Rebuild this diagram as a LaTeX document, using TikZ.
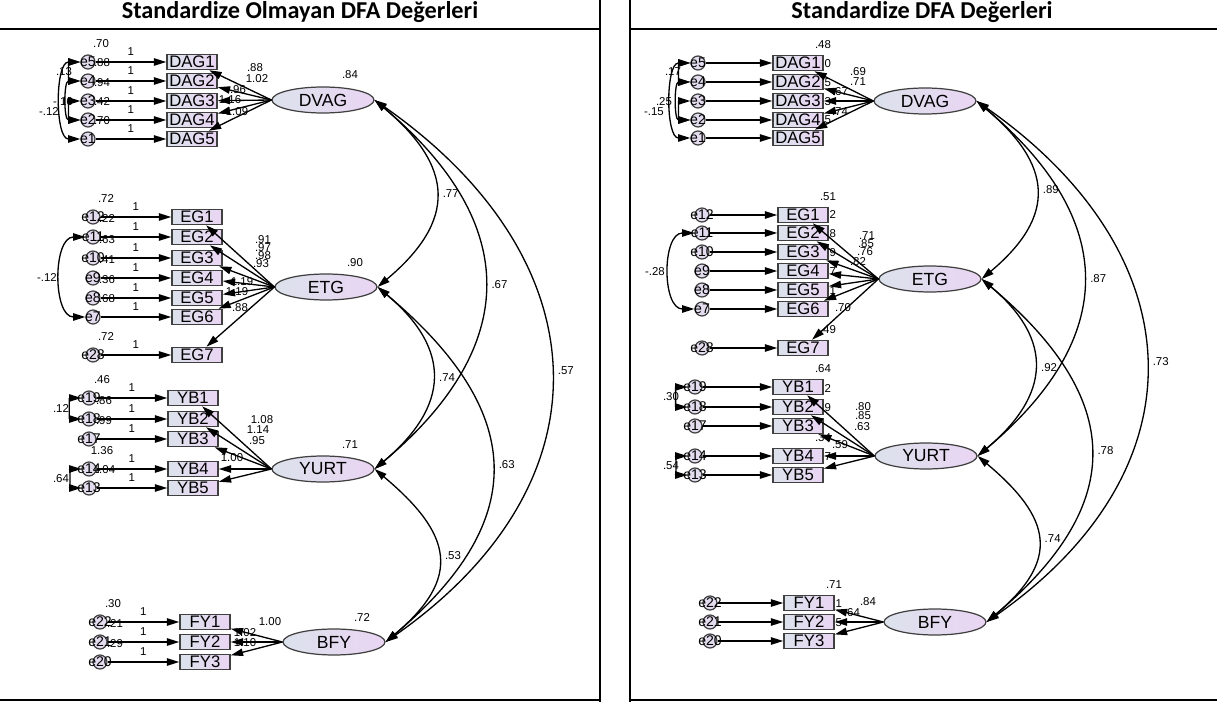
\documentclass[tikz,border=0pt]{standalone}
\usepackage{fontspec}
\setmainfont{Liberation Sans}
\newfontfamily\titlefont{Carlito}
\usetikzlibrary{shapes,arrows.meta,calc}
\definecolor{obsleft}{HTML}{DCE2EC}
\definecolor{obsright}{HTML}{EAD5F3}
\definecolor{errfill}{HTML}{E2DCEE}
\tikzset{obs/.style={rectangle,draw=black!75,line width=.9pt,left color=obsleft,right color=obsright,minimum width=1cm,minimum height=.3cm,inner sep=0pt,font=\fontsize{9.5}{10}\selectfont}}
\tikzset{lat/.style={ellipse,draw=black!75,line width=.7pt,left color=obsleft,right color=obsright,minimum width=2.04cm,minimum height=.52cm,inner sep=0pt,font=\fontsize{10}{11}\selectfont}}
\tikzset{err/.style={circle,draw=black!75,line width=.7pt,fill=errfill,minimum size=.28cm,inner sep=0pt,label={[font=\fontsize{8}{9}\selectfont,inner sep=0pt]center:#1}}}
\tikzset{num/.style={font=\fontsize{6.5}{7}\selectfont,inner sep=.6pt}}
\tikzset{load/.style={-{Triangle[length=7pt,width=4.2pt]},line width=.75pt}}
\tikzset{cov/.style={{Triangle[length=7pt,width=4.2pt]}-{Triangle[length=7pt,width=4.2pt]},line width=.75pt}}
\tikzset{tabline/.style={line width=1pt}}
\tikzset{title/.style={font=\titlefont\bfseries\fontsize{13.8}{15}\selectfont}}

\begin{document}
\begin{tikzpicture}[x=0.02cm,y=-0.02cm]
      \useasboundingbox (0,0) rectangle (1217,702);
      % table
      \draw[tabline] (0,29) -- (600,29) (630,29) -- (1217,29)
      (600,0) -- (600,702) (630,0) -- (630,702)
      (0,700) -- (600,700) (630,700) -- (1217,700);
      \node[title] (tleft) at (300,12) {Standardize Olmayan DFA Değerleri};
      \node[title] (tright) at (922,12) {Standardize DFA Değerleri};

      % variances (left) and squared correlations (right), under the nodes
      \node[num] (uv5) at (101,44) {.70};
      \node[num] (uv4) at (102,63) {.88};
      \node[num] (uv3) at (102,83) {.94};
      \node[num] (uv2) at (102,102) {.42};
      \node[num] (uv1) at (102,121) {.70};
      \node[num] (uv12) at (106,199) {.72};
      \node[num] (uv11) at (107,219) {.22};
      \node[num] (uv10) at (107,240) {.63};
      \node[num] (uv9) at (107,260) {.41};
      \node[num] (uv8) at (107,280) {.36};
      \node[num] (uv7) at (107,299) {.68};
      \node[num] (uv28) at (106,337) {.72};
      \node[num] (uv19) at (102,380) {.46};
      \node[num] (uv18) at (104,401) {.86};
      \node[num] (uv17) at (104,421) {.99};
      \node[num] (uv14) at (102,451) {1.36};
      \node[num] (uv13) at (104,470) {1.04};
      \node[num] (uv22) at (113,604) {.30};
      \node[num] (uv21) at (115,624) {.21};
      \node[num] (uv20) at (115,644) {.29};
      \node[num] (sr1) at (823,45) {.48};
      \node[num] (sr2) at (823,64) {.50};
      \node[num] (sr3) at (823,83) {.45};
      \node[num] (sr4) at (823,102) {.53};
      \node[num] (sr5) at (823,120) {.55};
      \node[num] (sr6) at (828,197) {.51};
      \node[num] (sr7) at (828,215) {.72};
      \node[num] (sr8) at (828,234) {.58};
      \node[num] (sr9) at (828,253) {.69};
      \node[num] (sr10) at (828,272) {.67};
      \node[num] (sr11) at (828,291) {.61};
      \node[num] (sr12) at (828,330) {.49};
      \node[num] (sr13) at (823,369) {.64};
      \node[num] (sr14) at (823,389) {.72};
      \node[num] (sr15) at (823,408) {.39};
      \node[num] (sr16) at (823,438) {.34};
      \node[num] (sr17) at (823,457) {.37};
      \node[num] (sr18) at (834,585) {.71};
      \node[num] (sr19) at (834,604) {.71};
      \node[num] (sr20) at (834,623) {.55};

      % left panel
      \node[lat] (udvag) at (323,100) {DVAG};
      \node[lat] (uetg) at (326,287) {ETG};
      \node[lat] (uyurt) at (323,469) {YURT};
      \node[lat] (ubfy) at (334,642) {BFY};
      \node[obs] (udag1) at (192,62) {DAG1};
      \node[obs] (udag2) at (192,81) {DAG2};
      \node[obs] (udag3) at (192,101) {DAG3};
      \node[obs] (udag4) at (192,120) {DAG4};
      \node[obs] (udag5) at (192,139) {DAG5};
      \node[obs] (ueg1) at (197,217) {EG1};
      \node[obs] (ueg2) at (197,237) {EG2};
      \node[obs] (ueg3) at (197,258) {EG3};
      \node[obs] (ueg4) at (197,278) {EG4};
      \node[obs] (ueg5) at (197,298) {EG5};
      \node[obs] (ueg6) at (197,317) {EG6};
      \node[obs] (ueg7) at (197,355) {EG7};
      \node[obs] (uyb1) at (193,398) {YB1};
      \node[obs] (uyb2) at (193,419) {YB2};
      \node[obs] (uyb3) at (193,439) {YB3};
      \node[obs] (uyb4) at (193,469) {YB4};
      \node[obs] (uyb5) at (193,488) {YB5};
      \node[obs] (ufy1) at (205,622) {FY1};
      \node[obs] (ufy2) at (205,642) {FY2};
      \node[obs] (ufy3) at (205,662) {FY3};
      \node[err=e5] (ue5) at (88,62) {};
      \node[err=e4] (ue4) at (88,81) {};
      \node[err=e3] (ue3) at (88,101) {};
      \node[err=e2] (ue2) at (88,120) {};
      \node[err=e1] (ue1) at (88,139) {};
      \node[err=e12] (ue12) at (93,217) {};
      \node[err=e11] (ue11) at (93,237) {};
      \node[err=e10] (ue10) at (93,258) {};
      \node[err=e9] (ue9) at (93,278) {};
      \node[err=e8] (ue8) at (93,298) {};
      \node[err=e7] (ue7) at (93,317) {};
      \node[err=e28] (ue28) at (93,355) {};
      \node[err=e19] (ue19) at (89,398) {};
      \node[err=e18] (ue18) at (89,419) {};
      \node[err=e17] (ue17) at (89,439) {};
      \node[err=e14] (ue14) at (89,469) {};
      \node[err=e13] (ue13) at (89,488) {};
      \node[err=e22] (ue22) at (100,622) {};
      \node[err=e21] (ue21) at (100,642) {};
      \node[err=e20] (ue20) at (100,662) {};

      % right panel
      \node[lat] (sdvag) at (925,101) {DVAG};
      \node[lat] (setg) at (930,279) {ETG};
      \node[lat] (syurt) at (926,456) {YURT};
      \node[lat] (sbfy) at (935,622) {BFY};
      \node[obs] (sdag1) at (798,63) {DAG1};
      \node[obs] (sdag2) at (798,82) {DAG2};
      \node[obs] (sdag3) at (798,101) {DAG3};
      \node[obs] (sdag4) at (798,120) {DAG4};
      \node[obs] (sdag5) at (798,138) {DAG5};
      \node[obs] (seg1) at (803,215) {EG1};
      \node[obs] (seg2) at (803,233) {EG2};
      \node[obs] (seg3) at (803,252) {EG3};
      \node[obs] (seg4) at (803,271) {EG4};
      \node[obs] (seg5) at (803,290) {EG5};
      \node[obs] (seg6) at (803,309) {EG6};
      \node[obs] (seg7) at (803,348) {EG7};
      \node[obs] (syb1) at (798,387) {YB1};
      \node[obs] (syb2) at (798,407) {YB2};
      \node[obs] (syb3) at (798,426) {YB3};
      \node[obs] (syb4) at (798,456) {YB4};
      \node[obs] (syb5) at (798,475) {YB5};
      \node[obs] (sfy1) at (809,603) {FY1};
      \node[obs] (sfy2) at (809,622) {FY2};
      \node[obs] (sfy3) at (809,641) {FY3};
      \node[err=e5] (se5) at (698,63) {};
      \node[err=e4] (se4) at (698,82) {};
      \node[err=e3] (se3) at (698,101) {};
      \node[err=e2] (se2) at (698,120) {};
      \node[err=e1] (se1) at (698,138) {};
      \node[err=e12] (se12) at (702,215) {};
      \node[err=e11] (se11) at (702,233) {};
      \node[err=e10] (se10) at (702,252) {};
      \node[err=e9] (se9) at (702,271) {};
      \node[err=e8] (se8) at (702,290) {};
      \node[err=e7] (se7) at (702,309) {};
      \node[err=e28] (se28) at (702,348) {};
      \node[err=e19] (se19) at (695,387) {};
      \node[err=e18] (se18) at (695,407) {};
      \node[err=e17] (se17) at (695,426) {};
      \node[err=e14] (se14) at (695,456) {};
      \node[err=e13] (se13) at (695,475) {};
      \node[err=e22] (se22) at (710,603) {};
      \node[err=e21] (se21) at (710,622) {};
      \node[err=e20] (se20) at (710,641) {};

      % error paths
      \path[load] (ue5) edge node[num,above=3pt]{1} (udag1)
      (ue4) edge node[num,above=3pt]{1} (udag2)
      (ue3) edge node[num,above=3pt]{1} (udag3)
      (ue2) edge node[num,above=3pt]{1} (udag4)
      (ue1) edge node[num,above=3pt]{1} (udag5)
      (ue12) edge node[num,above=3pt]{1} (ueg1)
      (ue11) edge node[num,above=3pt]{1} (ueg2)
      (ue10) edge node[num,above=3pt]{1} (ueg3)
      (ue9) edge node[num,above=3pt]{1} (ueg4)
      (ue8) edge node[num,above=3pt]{1} (ueg5)
      (ue7) edge node[num,above=3pt]{1} (ueg6)
      (ue28) edge node[num,above=3pt]{1} (ueg7)
      (ue19) edge node[num,above=3pt]{1} (uyb1)
      (ue18) edge node[num,above=3pt]{1} (uyb2)
      (ue17) edge node[num,above=3pt]{1} (uyb3)
      (ue14) edge node[num,above=3pt]{1} (uyb4)
      (ue13) edge node[num,above=3pt]{1} (uyb5)
      (ue22) edge node[num,above=3pt]{1} (ufy1)
      (ue21) edge node[num,above=3pt]{1} (ufy2)
      (ue20) edge node[num,above=3pt]{1} (ufy3);
      \path[load] (se5) edge (sdag1) (se4) edge (sdag2) (se3) edge (sdag3)
      (se2) edge (sdag4) (se1) edge (sdag5)
      (se12) edge (seg1) (se11) edge (seg2) (se10) edge (seg3) (se9) edge (seg4)
      (se8) edge (seg5) (se7) edge (seg6) (se28) edge (seg7)
      (se19) edge (syb1) (se18) edge (syb2) (se17) edge (syb3)
      (se14) edge (syb4) (se13) edge (syb5)
      (se22) edge (sfy1) (se21) edge (sfy2) (se20) edge (sfy3);

      % loadings
      \path[load] (udvag.west) edge (udag1) edge (udag2) edge (udag3) edge (udag4) edge (udag5);
      \path[load] (uetg.west) edge (ueg1) edge (ueg2) edge (ueg3) edge (ueg4) edge (ueg5) edge (ueg6) edge (ueg7);
      \path[load] (uyurt.west) edge (uyb1) edge (uyb2) edge (uyb3) edge (uyb4) edge (uyb5);
      \path[load] (ubfy.west) edge (ufy1) edge (ufy2) edge (ufy3);
      \path[load] (sdvag.west) edge (sdag1) edge (sdag2) edge (sdag3) edge (sdag4) edge (sdag5);
      \path[load] (setg.west) edge (seg1) edge (seg2) edge (seg3) edge (seg4) edge (seg5) edge (seg6) edge (seg7);
      \path[load] (syurt.west) edge (syb1) edge (syb2) edge (syb3) edge (syb4) edge (syb5);
      \path[load] (sbfy.west) edge (sfy1) edge (sfy2) edge (sfy3);

      % error covariances
      \path[cov] (ue5) edge[out=180,in=180,looseness=1.6] (ue4)
      (ue4) edge[out=180,in=180,looseness=1.1] (ue2)
      (ue3) edge[out=180,in=180,looseness=1.6] (ue2)
      (ue5) edge[out=180,in=180,looseness=.85] (ue1)
      (ue11) edge[out=180,in=180,looseness=1.05] (ue7)
      (ue19) edge[out=180,in=180,looseness=1.5] (ue18)
      (ue14) edge[out=180,in=180,looseness=1.5] (ue13);
      \path[cov] (se5) edge[out=180,in=180,looseness=1.6] (se4)
      (se4) edge[out=180,in=180,looseness=1.1] (se2)
      (se3) edge[out=180,in=180,looseness=1.6] (se2)
      (se5) edge[out=180,in=180,looseness=.85] (se1)
      (se11) edge[out=180,in=180,looseness=1.1] (se7)
      (se19) edge[out=180,in=180,looseness=1.5] (se18)
      (se14) edge[out=180,in=180,looseness=1.5] (se13);
      \node[num] (uc1) at (64,72) {.13};
      \node[num] (uc2) at (63,102) {-.16};
      \node[num] (uc3) at (49,112) {-.12};
      \node[num] (uc4) at (47,278) {-.12};
      \node[num] (uc5) at (61,409) {.12};
      \node[num] (uc6) at (61,479) {.64};
      \node[num] (sc1) at (673,72) {.17};
      \node[num] (sc2) at (664,102) {.25};
      \node[num] (sc3) at (654,112) {-.15};
      \node[num] (sc4) at (655,272) {-.28};
      \node[num] (sc5) at (671,397) {.30};
      \node[num] (sc6) at (671,466) {.54};

      % factor covariances
      \path[cov] (udvag.east) edge[out=-40,in=40,looseness=1.42] node[num,right=3pt]{.77} (uetg.east)
      (udvag.east) edge[out=-40,in=40,looseness=1.33] node[num,right=3pt]{.67} (uyurt.east)
      (udvag.east) edge[out=-35,in=35,looseness=1.31] node[num,right=3pt]{.57} (ubfy.east)
      (uetg.east) edge[out=-40,in=40,looseness=1.37] node[num,right=3pt]{.74} (uyurt.east)
      (uetg.east) edge[out=-40,in=40,looseness=1.38] node[num,right=3pt]{.63} (ubfy.east)
      (uyurt.east) edge[out=-40,in=40,looseness=1.49] node[num,right=3pt]{.53} (ubfy.east);
      \path[cov] (sdvag.east) edge[out=-40,in=40,looseness=1.42] node[num,right=3pt]{.89} (setg.east)
      (sdvag.east) edge[out=-40,in=40,looseness=1.33] node[num,right=3pt]{.87} (syurt.east)
      (sdvag.east) edge[out=-35,in=35,looseness=1.31] node[num,right=3pt]{.73} (sbfy.east)
      (setg.east) edge[out=-40,in=40,looseness=1.37] node[num,right=3pt]{.92} (syurt.east)
      (setg.east) edge[out=-40,in=40,looseness=1.38] node[num,right=3pt]{.78} (sbfy.east)
      (syurt.east) edge[out=-40,in=40,looseness=1.49] node[num,right=3pt]{.74} (sbfy.east);

      % loading estimates and factor variances
      \node[num] (ul1) at (255,68) {.88};
      \node[num] (ul2) at (257,79) {1.02};
      \node[num] (ul3) at (238,90) {.96};
      \node[num] (ul4) at (230,100) {1.16};
      \node[num] (ul5) at (237,112) {1.09};
      \node[num] (ul6) at (263,240) {.91};
      \node[num] (ul7) at (263,248) {.97};
      \node[num] (ul8) at (263,256) {.98};
      \node[num] (ul9) at (261,264) {.93};
      \node[num] (ul10) at (242,282) {1.19};
      \node[num] (ul11) at (237,292) {1.19};
      \node[num] (ul12) at (240,308) {.88};
      \node[num] (ul13) at (262,420) {1.08};
      \node[num] (ul14) at (258,430) {1.14};
      \node[num] (ul15) at (257,441) {.95};
      \node[num] (ul16) at (232,458) {1.00};
      \node[num] (ul17) at (270,622) {1.00};
      \node[num] (ul18) at (245,633) {1.02};
      \node[num] (ul19) at (245,643) {1.10};
      \node[num] (uf1) at (350,75) {.84};
      \node[num] (uf2) at (355,263) {.90};
      \node[num] (uf3) at (350,445) {.71};
      \node[num] (uf4) at (362,618) {.72};
      \node[num] (sl1) at (858,72) {.69};
      \node[num] (sl2) at (858,82) {.71};
      \node[num] (sl3) at (840,92) {.67};
      \node[num] (sl4) at (840,112) {.74};
      \node[num] (sl5) at (867,236) {.71};
      \node[num] (sl6) at (866,244) {.85};
      \node[num] (sl7) at (865,252) {.76};
      \node[num] (sl8) at (858,262) {.82};
      \node[num] (sl9) at (843,308) {.70};
      \node[num] (sl10) at (863,407) {.80};
      \node[num] (sl11) at (863,416) {.85};
      \node[num] (sl12) at (862,427) {.63};
      \node[num] (sl13) at (840,445) {.59};
      \node[num] (sl14) at (868,602) {.84};
      \node[num] (sl15) at (852,613) {.64};
\end{tikzpicture}
\end{document}
